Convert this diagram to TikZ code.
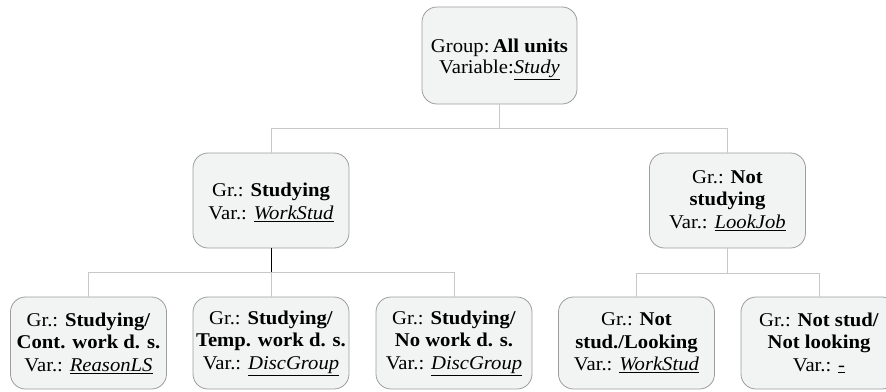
\documentclass[tikz,border=0pt]{standalone}
\usepackage{fontspec}
\setmainfont{Liberation Serif}[FakeStretch=1.06]
\definecolor{boxfill}{HTML}{F2F3F3}
\definecolor{boxline}{HTML}{9C9C9C}
\definecolor{conn}{HTML}{C8C8C8}
\tikzset{
  gbox/.style={draw=boxline, fill=boxfill, line width=0.8pt, rounded corners=15pt,
    minimum width=156pt, align=center, inner sep=0pt,
    font=\fontsize{19.5}{22.5}\selectfont},
  lite/.style={draw=conn, line width=0.8pt},
  dark/.style={draw=black, line width=0.8pt}
}
\newcommand{\vname}[1]{\underline{\textit{#1}}}
\begin{document}
\begin{tikzpicture}[x=1pt,y=-1pt]
\useasboundingbox (0,0) rectangle (886,391);
\clip (0,0) rectangle (886,391);
% nodes
\node[gbox, minimum width=155pt, minimum height=97pt,
  label={[align=center, yshift=-4pt, font=\fontsize{19.5}{20.5}\selectfont]center:Group:\,\textbf{All units}\\Variable:\vname{Study}}]
  (root) at (499.5,55.5) {};
\node[gbox, minimum height=95pt,
  label={[align=center, yshift=-2pt, font=\fontsize{19.5}{23.5}\selectfont]center:Gr.: \textbf{Studying}\\Var.: \vname{WorkStud}}]
  (stud) at (271,200.5) {};
\node[gbox, minimum height=95pt] (nstud) at (727.5,200.5)
  {Gr.: \textbf{Not}\\\textbf{studying}\\Var.: \vname{LookJob}};
\node[gbox, minimum height=92pt] (c1) at (88.5,343)
  {Gr.: \textbf{Studying/}\\\textbf{Cont. work d. s.}\\Var.: \vname{ReasonLS}};
\node[gbox, minimum height=92pt] (c2) at (271,343)
  {Gr.: \textbf{Studying/}\\\textbf{Temp. work d. s.}\\Var.: \vname{DiscGroup}};
\node[gbox, minimum height=92pt] (c3) at (454,343)
  {Gr.: \textbf{Studying/}\\\textbf{No work d. s.}\\Var.: \vname{DiscGroup}};
\node[gbox, minimum height=92pt] (c4) at (636.5,343)
  {Gr.: \textbf{Not}\\\textbf{stud./Looking}\\Var.: \vname{WorkStud}};
\node[gbox, minimum height=92pt] (c5) at (819,343)
  {Gr.: \textbf{Not stud/}\\\textbf{Not looking}\\Var.: \underline{-}};
% connectors
\coordinate (j0) at (499.5,128);
\coordinate (j1) at (271,272);
\coordinate (j2) at (727.5,273);
\draw[lite] (root.south) -- (j0);
\draw[lite] (stud.north) |- (j0);
\draw[lite] (nstud.north) |- (j0);
\draw[dark] (stud.south) -- (j1);
\draw[lite] (c1.north) |- (j1);
\draw[lite] (c2.north) -- (j1);
\draw[lite] (c3.north) |- (j1);
\draw[lite] (nstud.south) -- (j2);
\draw[lite] (c4.north) |- (j2);
\draw[lite] (c5.north) |- (j2);
\end{tikzpicture}
\end{document}
